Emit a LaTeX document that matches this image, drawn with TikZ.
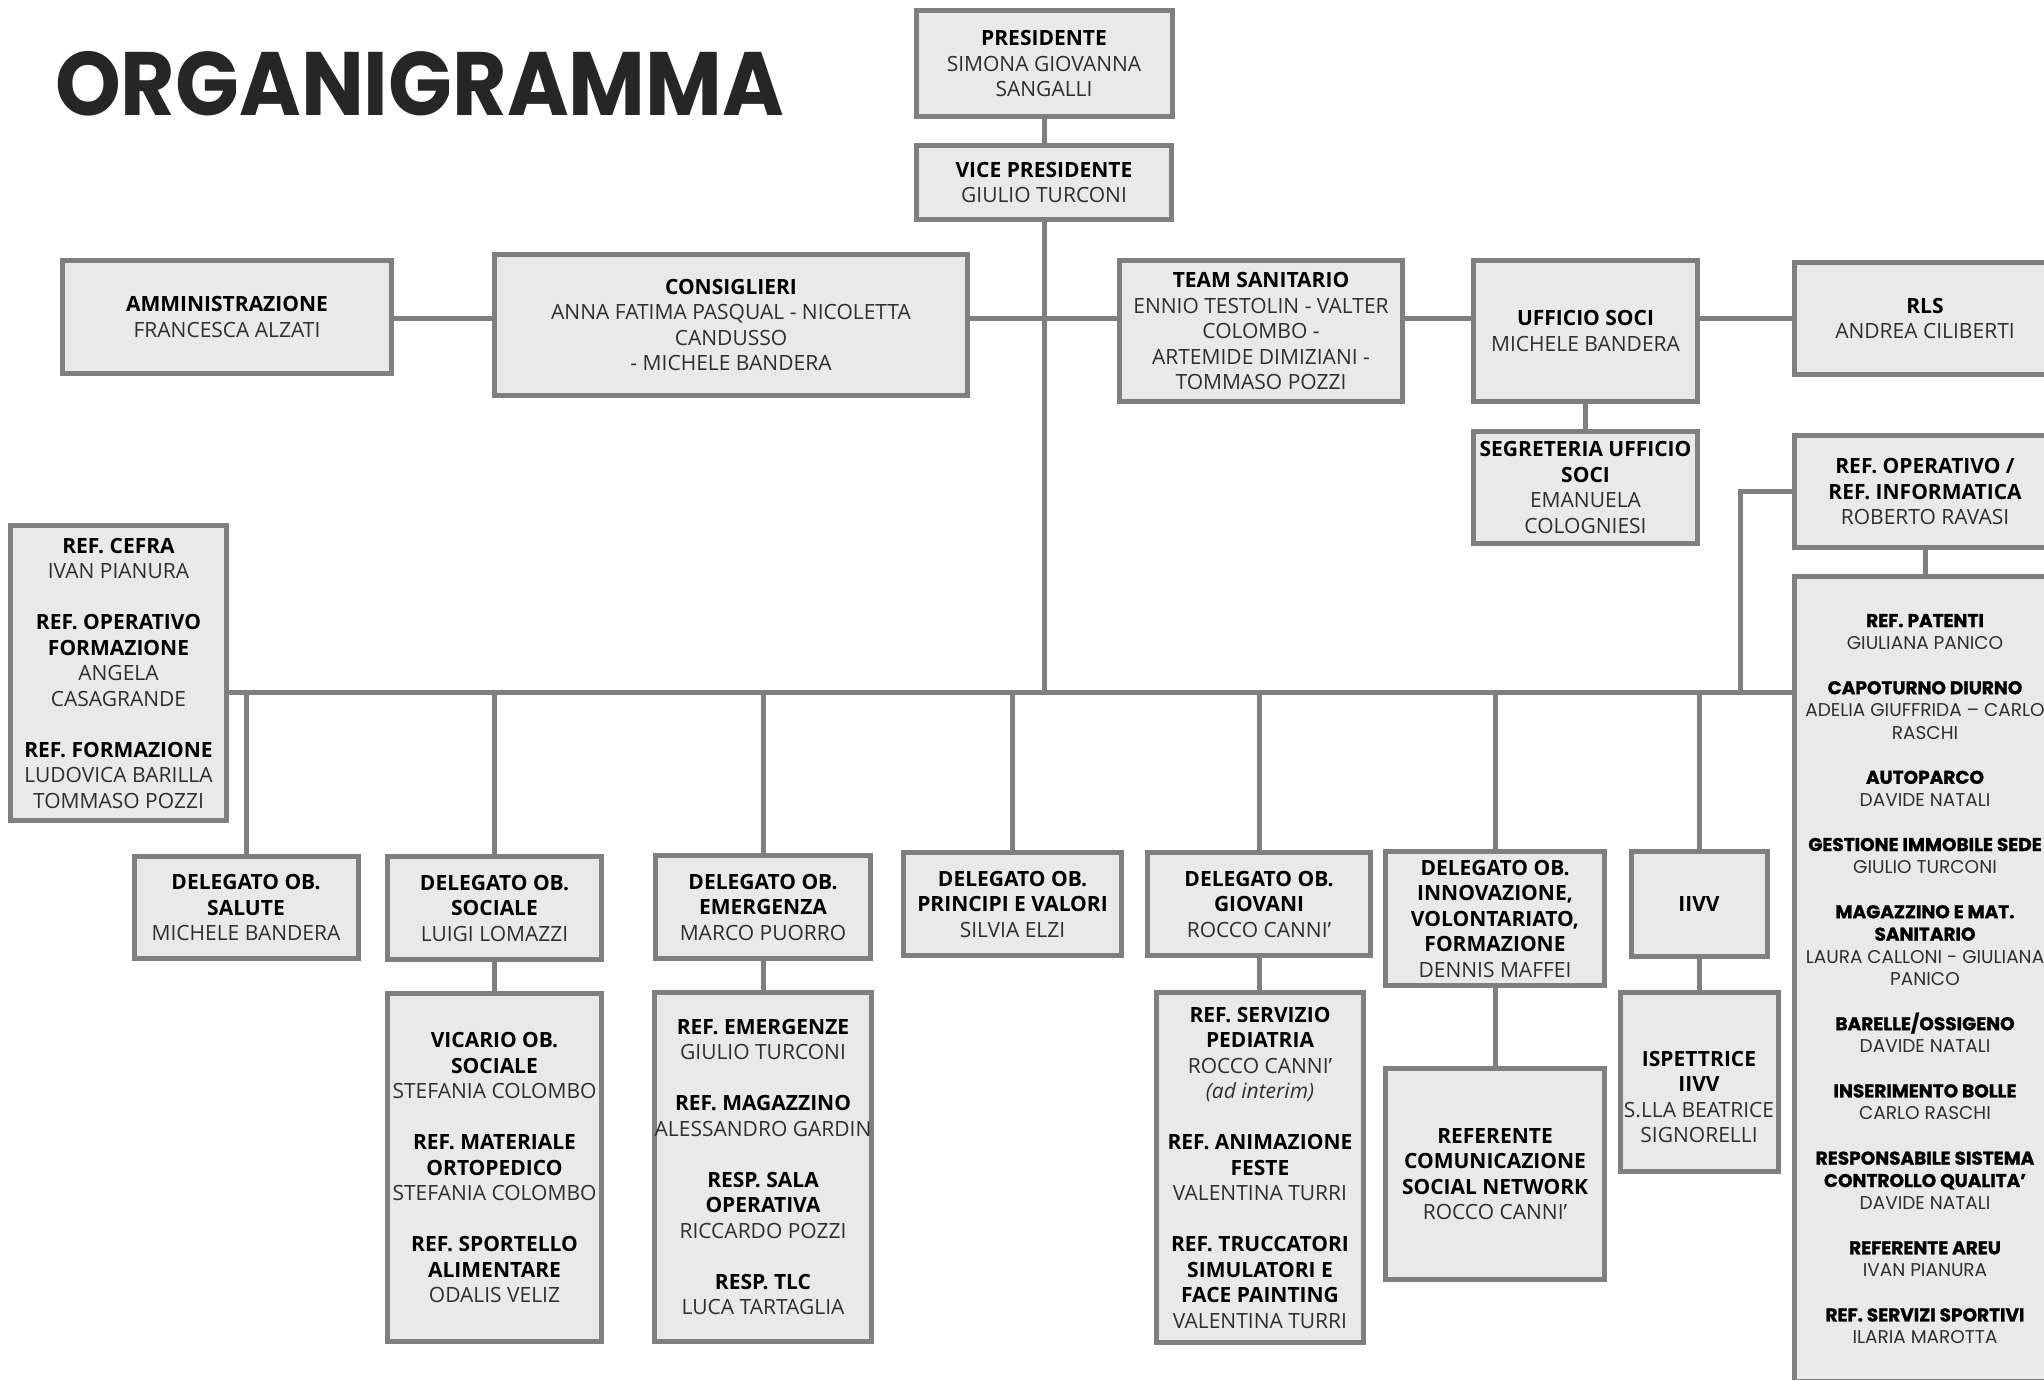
\documentclass[tikz,border=0pt]{standalone}
\usepackage{fontspec}
\setmainfont{Open Sans}
\newfontfamily\popf[BoldFeatures={FakeBold=1.2}]{Poppins}
\newfontfamily\titlef[FakeStretch=0.93]{Poppins}
\definecolor{linec}{HTML}{7F7F7F}
\definecolor{boxc}{HTML}{E9E9E9}
\definecolor{namec}{HTML}{2E2E2E}
\definecolor{titlec}{HTML}{262626}
\newcommand\nmx[1]{{\color{namec}#1}}
\newcommand\gapl{\\[25.5pt]}
\newcommand\gapr{\\[22.4pt]}
\tikzset{
  box/.style={draw=linec, fill=boxc, line width=5pt, align=center, inner sep=0pt,
    font=\fontsize{21}{25.5}\selectfont, text=black},
  rbox/.style={box, font=\popf\fontsize{18.5}{22.4}\selectfont},
  txt/.style={align=center, inner sep=0pt, font=\fontsize{21}{25.5}\selectfont, text=black},
  conn/.style={draw=linec, line width=5pt},
}
\begin{document}
\begin{tikzpicture}[x=1pt,y=-1pt]
\useasboundingbox (0,0) rectangle (2044,1379);
\clip (0,0) rectangle (2044,1379);
\fill[white] (0,0) rectangle (2044,1379);

\node[anchor=base west, inner sep=0pt, text=titlec, font=\titlef\bfseries\fontsize{90}{90}\selectfont] (title) at (55,115) {ORGANIGRAMMA};

% top
\node[box, minimum width=256, minimum height=106] (pres) at (1044,63.5) {\textbf{PRESIDENTE}\\ \nmx{SIMONA GIOVANNA}\\ \nmx{SANGALLI}};
\node[box, minimum width=255, minimum height=74] (vice) at (1044,182.5) {\textbf{VICE PRESIDENTE}\\ \nmx{GIULIO TURCONI}};

% second row
\node[box, minimum width=329, minimum height=113] (ammin) at (227,317) {\textbf{AMMINISTRAZIONE}\\ \nmx{FRANCESCA ALZATI}};
\node[box, minimum width=473, minimum height=141] (cons) at (731,325) {\textbf{CONSIGLIERI}\\ \nmx{ANNA FATIMA PASQUAL - NICOLETTA}\\ \nmx{CANDUSSO}\\ \nmx{- MICHELE BANDERA}};
\node[box, minimum width=283, minimum height=141] (team) at (1261,331) {\textbf{TEAM SANITARIO}\\ \nmx{ENNIO TESTOLIN - VALTER}\\ \nmx{COLOMBO -}\\ \nmx{ARTEMIDE DIMIZIANI -}\\ \nmx{TOMMASO POZZI}};
\node[box, minimum width=224, minimum height=141] (uff) at (1585.5,331) {\textbf{UFFICIO SOCI}\\ \nmx{MICHELE BANDERA}};
\node[box, minimum width=261, minimum height=112] (rls) at (1925,318.5) {\textbf{RLS}\\ \nmx{ANDREA CILIBERTI}};
\node[box, minimum width=224, minimum height=112] (segr) at (1585.5,487.5) {\textbf{SEGRETERIA UFFICIO}\\ \textbf{SOCI}\\ \nmx{EMANUELA}\\ \nmx{COLOGNIESI}};
\node[box, minimum width=261, minimum height=112] (refop) at (1925,491.5) {\textbf{REF. OPERATIVO /}\\ \textbf{REF. INFORMATICA}\\ \nmx{ROBERTO RAVASI}};

% left column box
\node[box, minimum width=216, minimum height=295] (cefra) at (118.5,673) {\textbf{REF. CEFRA}\\ \nmx{IVAN PIANURA}\gapl \textbf{REF. OPERATIVO}\\ \textbf{FORMAZIONE}\\ \nmx{ANGELA}\\ \nmx{CASAGRANDE}\gapl \textbf{REF. FORMAZIONE}\\ \nmx{LUDOVICA BARILLA}\\ \nmx{TOMMASO POZZI}};

% delegates row
\node[box, minimum width=224, minimum height=102] (salute) at (246,907.5) {\textbf{DELEGATO OB.}\\ \textbf{SALUTE}\\ \nmx{MICHELE BANDERA}};
\node[box, minimum width=214, minimum height=103] (sociale) at (494.5,908) {\textbf{DELEGATO OB.}\\ \textbf{SOCIALE}\\ \nmx{LUIGI LOMAZZI}};
\node[box, minimum width=215, minimum height=103] (emerg) at (763,907) {\textbf{DELEGATO OB.}\\ \textbf{EMERGENZA}\\ \nmx{MARCO PUORRO}};
\node[box, minimum width=218, minimum height=103] (princ) at (1012.5,904) {\textbf{DELEGATO OB.}\\ \textbf{PRINCIPI E VALORI}\\ \nmx{SILVIA ELZI}};
\node[box, minimum width=223, minimum height=103] (giov) at (1259,904) {\textbf{DELEGATO OB.}\\ \textbf{GIOVANI}\\ \nmx{ROCCO CANNI’}};
\node[box, minimum width=219, minimum height=134] (innov) at (1495,918.5) {\textbf{DELEGATO OB.}\\ \textbf{INNOVAZIONE,}\\ \textbf{VOLONTARIATO,}\\ \textbf{FORMAZIONE}\\ \nmx{DENNIS MAFFEI}};
\node[box, minimum width=136, minimum height=105] (iivv) at (1699,904) {\textbf{IIVV}};

% bottom boxes
\node[box, minimum width=214, minimum height=348] (vicario) at (494.5,1167.5) {\textbf{VICARIO OB.}\\ \textbf{SOCIALE}\\ \nmx{STEFANIA COLOMBO}\gapl \textbf{REF. MATERIALE}\\ \textbf{ORTOPEDICO}\\ \nmx{STEFANIA COLOMBO}\gapl \textbf{REF. SPORTELLO}\\ \textbf{ALIMENTARE}\\ \nmx{ODALIS VELIZ}};
\node[box, minimum width=215, minimum height=349] (refem) at (763,1167) {\textbf{REF. EMERGENZE}\\ \nmx{GIULIO TURCONI}\gapl \textbf{REF. MAGAZZINO}\\ \nmx{ALESSANDRO GARDIN}\gapl \textbf{RESP. SALA}\\ \textbf{OPERATIVA}\\ \nmx{RICCARDO POZZI}\gapl \textbf{RESP. TLC}\\ \nmx{LUCA TARTAGLIA}};
\node[box, minimum width=207, minimum height=350] (pedia) at (1260,1167.5) {\textbf{REF. SERVIZIO}\\ \textbf{PEDIATRIA}\\ \nmx{ROCCO CANNI’}\\ \nmx{\itshape (ad interim)}\gapl \textbf{REF. ANIMAZIONE}\\ \textbf{FESTE}\\ \nmx{VALENTINA TURRI}\gapl \textbf{REF. TRUCCATORI}\\ \textbf{SIMULATORI E}\\ \textbf{FACE PAINTING}\\ \nmx{VALENTINA TURRI}};
\node[box, minimum width=219, minimum height=211] (comun) at (1495,1174) {\textbf{REFERENTE}\\ \textbf{COMUNICAZIONE}\\ \textbf{SOCIAL NETWORK}\\ \nmx{ROCCO CANNI’}};
\node[box, minimum width=158, minimum height=179] (ispet) at (1699,1082) {};
\node[txt] (ispettxt) at ([yshift=-15pt]ispet.center) {\textbf{ISPETTRICE}\\ \textbf{IIVV}\\ \nmx{S.LLA BEATRICE}\\ \nmx{SIGNORELLI}};

% big right box
\node[rbox, minimum width=261, minimum height=805] (big) at (1925,979) {\textbf{REF. PATENTI}\\ \nmx{GIULIANA PANICO}\gapr \textbf{CAPOTURNO DIURNO}\\ \nmx{ADELIA GIUFFRIDA – CARLO}\\ \nmx{RASCHI}\gapr \textbf{AUTOPARCO}\\ \nmx{DAVIDE NATALI}\gapr \textbf{GESTIONE IMMOBILE SEDE}\\ \nmx{GIULIO TURCONI}\gapr \textbf{MAGAZZINO E MAT.}\\ \textbf{SANITARIO}\\ \nmx{LAURA CALLONI - GIULIANA}\\ \nmx{PANICO}\gapr \textbf{BARELLE/OSSIGENO}\\ \nmx{DAVIDE NATALI}\gapr \textbf{INSERIMENTO BOLLE}\\ \nmx{CARLO RASCHI}\gapr \textbf{RESPONSABILE SISTEMA}\\ \textbf{CONTROLLO QUALITA’}\\ \nmx{DAVIDE NATALI}\gapr \textbf{REFERENTE AREU}\\ \nmx{IVAN PIANURA}\gapr \textbf{REF. SERVIZI SPORTIVI}\\ \nmx{ILARIA MAROTTA}};

% connector helpers
\coordinate (row) at (0,318);
\coordinate (bus) at (0,692);
\coordinate (opturn) at (1740,692);

% connectors
\draw[conn] (pres.south) -- (vice.north);
\draw[conn] (vice.south) -- (vice.south |- bus);
\draw[conn] (ammin.east |- row) -- (cons.west |- row);
\draw[conn] (cons.east |- row) -- (team.west |- row);
\draw[conn] (team.east |- row) -- (uff.west |- row);
\draw[conn] (uff.east |- row) -- (rls.west |- row);
\draw[conn] (uff.south) -- (segr.north);
\draw[conn] (cefra.east |- bus) -- (big.west |- bus);
\foreach \n in {salute,sociale,emerg,princ,giov,innov,iivv}
  \draw[conn] (\n.north) -- (\n.north |- bus);
\draw[conn] (refop.west) -| (opturn);
\draw[conn] (refop.south) -- (big.north);
\draw[conn] (sociale.south) -- (vicario.north);
\draw[conn] (emerg.south) -- (refem.north);
\draw[conn] (giov.south) -- (giov.south |- pedia.north);
\draw[conn] (innov.south) -- (comun.north);
\draw[conn] (iivv.south) -- (iivv.south |- ispet.north);
\end{tikzpicture}
\end{document}
